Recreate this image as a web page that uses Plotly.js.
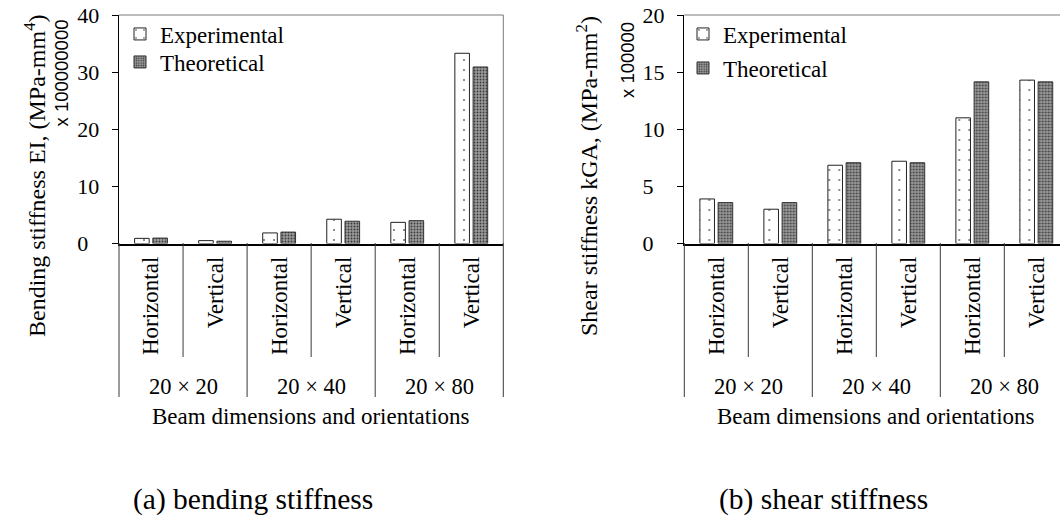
<!DOCTYPE html>
<html>
<head>
<meta charset="utf-8">
<script src="https://cdn.plot.ly/plotly-3.0.1.min.js"></script>
<style>html,body{margin:0;padding:0;background:#fff;}#chart{width:1060px;height:517px;}</style>
</head>
<body>
<div id="chart"></div>
<script>
// ---- data ----
const groups = ['20 × 20', '20 × 40', '20 × 80'];
const orientations = ['Horizontal', 'Vertical'];
const seriesNames = ['Experimental', 'Theoretical'];
// Bending stiffness EI (x 100000000 MPa-mm^4)
const bendingExperimental = [0.9, 0.5, 1.85, 4.25, 3.7, 33.3];
const bendingTheoretical = [0.95, 0.4, 2.0, 3.9, 4.0, 30.9];
// Shear stiffness kGA (x 100000 MPa-mm^2)
const shearExperimental = [3.9, 3.0, 6.85, 7.2, 11.0, 14.3];
const shearTheoretical = [3.58, 3.58, 7.07, 7.07, 14.15, 14.15];
const bendingTicks = [0, 10, 20, 30, 40];
const shearTicks = [0, 5, 10, 15, 20];

const bendingTitle = 'Bending stiffness EI, (MPa-mm<sup>4</sup>)';
const shearTitle = 'Shear stiffness kGA, (MPa-mm<sup>2</sup>)';
const bendingMultiplier = 'x 100000000';
const shearMultiplier = 'x 100000';
const xTitle = 'Beam dimensions and orientations';
const captions = ['(a) bending stiffness', '(b) shear stiffness'];

// ---- build ----
const keys = [];
const keyLabels = [];
groups.forEach(g => orientations.forEach(o => { keys.push(g + ' | ' + o); keyLabels.push(o); }));

const W = 1060, H = 517;
const SERIF = 'Liberation Serif';
const SANS = 'Liberation Sans';
const px = v => v / W;
const py = v => 1 - v / H;

const expMarker = {
  color: '#ffffff',
  line: {color: '#222222', width: 1},
  pattern: {shape: '.', fgcolor: '#000000', bgcolor: '#ffffff', size: 10, solidity: 0.02}
};
const theoMarker = {
  color: '#848484',
  line: {color: '#333333', width: 1},
  pattern: {shape: '.', fgcolor: '#3a3a3a', bgcolor: '#9a9a9a', size: 3, solidity: 0.3}
};

const traces = [
  {type: 'bar', x: keys, y: bendingExperimental, name: seriesNames[0], marker: expMarker, xaxis: 'x', yaxis: 'y', legend: 'legend'},
  {type: 'bar', x: keys, y: bendingTheoretical, name: seriesNames[1], marker: theoMarker, xaxis: 'x', yaxis: 'y', legend: 'legend3'},
  {type: 'bar', x: keys, y: shearExperimental, name: seriesNames[0], marker: expMarker, xaxis: 'x2', yaxis: 'y2', legend: 'legend2'},
  {type: 'bar', x: keys, y: shearTheoretical, name: seriesNames[1], marker: theoMarker, xaxis: 'x2', yaxis: 'y2', legend: 'legend4'}
];

const plotTop = 15, plotBottom = 243.5;
const yDomain = [py(plotBottom), py(plotTop)];
const n = keys.length;
const rightRangeMax = -0.5 + (W - 684.3) / 64;

const pad = t => String(t).length < 2 ? t + '\u2007' : String(t);

function xaxisDef(domain, range) {
  return {
    domain: domain, type: 'category', range: range,
    categoryorder: 'array', categoryarray: keys,
    tickmode: 'array', tickvals: keys, ticktext: keyLabels,
    tickangle: -90, ticks: '', showgrid: false, zeroline: false,
    showline: true, linecolor: '#000', linewidth: 2,
    tickfont: {family: SERIF, size: 23, color: '#000'},
    ticklabelstandoff: 2,
    fixedrange: true
  };
}
function yaxisDef(anchor, range, ticks) {
  return {
    domain: yDomain, anchor: anchor, range: range,
    tickmode: 'array', tickvals: ticks, ticktext: ticks.map(pad),
    ticks: 'outside', ticklen: 6, tickcolor: '#000', tickwidth: 1,
    showline: true, linecolor: '#000', linewidth: 1.3,
    showgrid: false, zeroline: false,
    tickfont: {family: SERIF, size: 22, color: '#000'},
    ticklabelstandoff: 8,
    fixedrange: true
  };
}

const shapes = [];
const annotations = [];
function decorate(xa, ya, isLeft, title, mult, titleX, multX, multY, caption, capX) {
  const line = {color: '#3a3a3a', width: 1};
  shapes.push({type: 'line', xref: xa + ' domain', yref: ya + ' domain', x0: 0, x1: 1, y0: 1, y1: 1, line: {color: '#7a7a7a', width: 1}});
  if (isLeft) shapes.push({type: 'line', xref: xa + ' domain', yref: ya + ' domain', x0: 1, x1: 1, y0: 0, y1: 1, line: {color: '#7a7a7a', width: 1}});
  const per = orientations.length;
  groups.forEach((g, gi) => {
    for (let k = 1; k < per; k++) {
      const b = gi * per + k - 0.5;
      shapes.push({type: 'line', xref: xa, yref: 'paper', x0: b, x1: b, y0: py(243), y1: py(357), line: line});
    }
  });
  shapes.push({type: 'line', xref: xa + ' domain', yref: 'paper', x0: 0, x1: 0, y0: py(243), y1: py(397), line: line});
  for (let gi = 1; gi < groups.length; gi++) {
    const b = gi * per - 0.5;
    shapes.push({type: 'line', xref: xa, yref: 'paper', x0: b, x1: b, y0: py(243), y1: py(397), line: line});
  }
  if (isLeft) shapes.push({type: 'line', xref: xa + ' domain', yref: 'paper', x0: 1, x1: 1, y0: py(243), y1: py(397), line: line});
  groups.forEach((g, gi) => {
    annotations.push({xref: xa, yref: 'paper', x: gi * per + (per - 1) / 2, y: py(386), text: g, showarrow: false,
      xanchor: 'center', yanchor: 'middle', font: {family: SERIF, size: 22.5, color: '#000'}});
  });
  annotations.push({xref: xa, yref: 'paper', x: (n - 1) / 2, y: py(416), text: xTitle, showarrow: false,
    xanchor: 'center', yanchor: 'middle', font: {family: SERIF, size: 23, color: '#000'}});
  annotations.push({xref: 'paper', yref: 'paper', x: px(titleX), y: py(176), text: title, textangle: -90, showarrow: false,
    xanchor: 'center', yanchor: 'middle', font: {family: SERIF, size: 24, color: '#000'}});
  annotations.push({xref: 'paper', yref: 'paper', x: px(multX), y: py(multY), text: mult, textangle: -90, showarrow: false,
    xanchor: 'center', yanchor: 'middle', font: {family: SANS, size: 18.5, color: '#000'}});
  annotations.push({xref: 'paper', yref: 'paper', x: px(capX), y: py(499), text: caption, showarrow: false,
    xanchor: 'center', yanchor: 'middle', font: {family: SERIF, size: 29.5, color: '#000'}});
}
decorate('x', 'y', true, bendingTitle, bendingMultiplier, 35, 61.5, 73, captions[0], 253);
decorate('x2', 'y2', false, shearTitle, shearMultiplier, 587, 627, 60, captions[1], 823);

const legendBase = {
  bgcolor: 'rgba(0,0,0,0)', borderwidth: 0,
  font: {family: SERIF, size: 23, color: '#000'},
  xanchor: 'left', yanchor: 'middle', itemwidth: 30
};

const layout = {
  width: W, height: H,
  font: {family: SERIF, color: '#000'},
  margin: {l: 0, r: 0, t: 0, b: 0, pad: 0},
  paper_bgcolor: '#fff', plot_bgcolor: '#fff',
  barmode: 'group', bargap: 0.43, bargroupgap: 0.2,
  xaxis: xaxisDef([px(119), px(503.3)], [-0.5, n - 0.5]),
  yaxis: yaxisDef('x', [0, 40], bendingTicks),
  xaxis2: xaxisDef([px(684.3), 1], [-0.5, rightRangeMax]),
  yaxis2: yaxisDef('x2', [0, 20], shearTicks),
  legend: Object.assign({}, legendBase, {x: px(120), y: py(34)}),
  legend3: Object.assign({}, legendBase, {x: px(120), y: py(62)}),
  legend2: Object.assign({}, legendBase, {x: px(683), y: py(34)}),
  legend4: Object.assign({}, legendBase, {x: px(683), y: py(68)}),
  shapes: shapes,
  annotations: annotations,
  showlegend: true
};
layout.xaxis.anchor = 'y';
layout.xaxis2.anchor = 'y2';

Plotly.newPlot('chart', traces, layout, {displayModeBar: false, staticPlot: true});
</script>
</body>
</html>
